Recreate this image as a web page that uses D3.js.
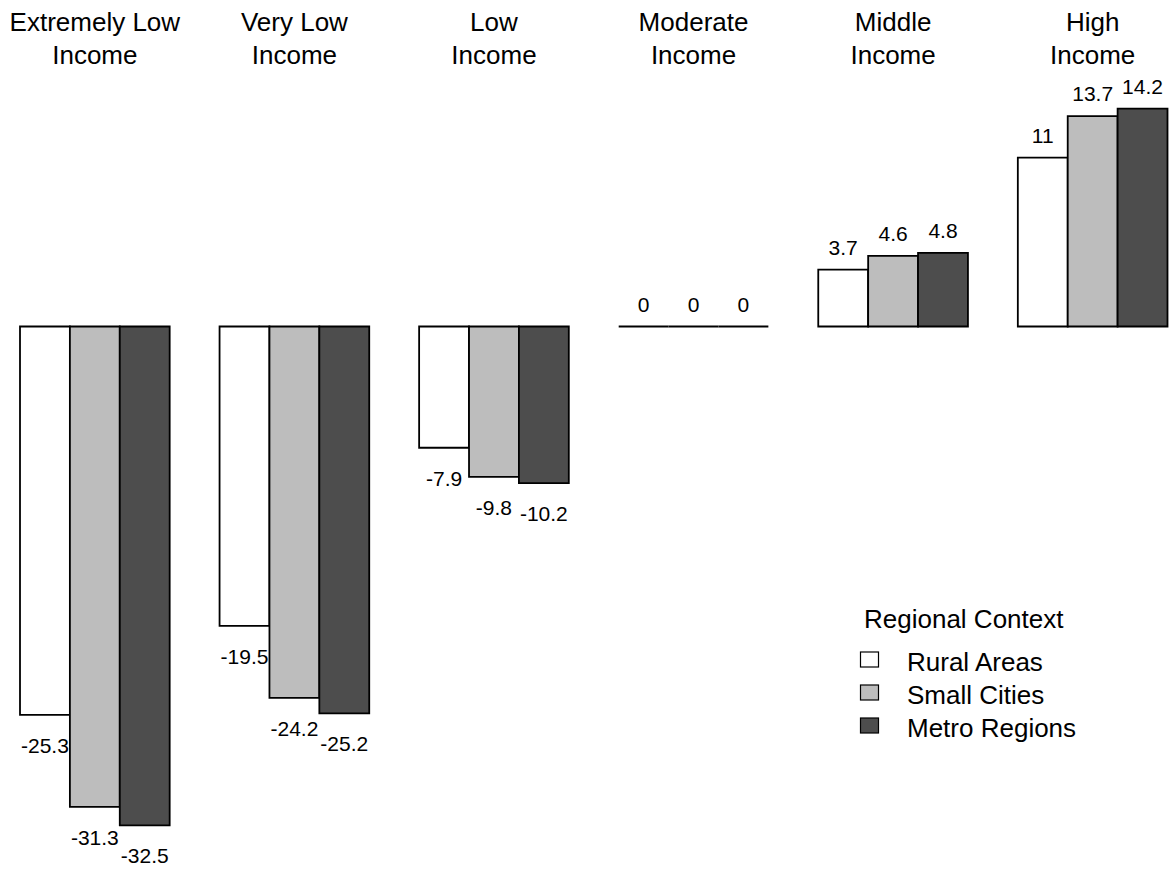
<!DOCTYPE html>
<html>
<head>
<meta charset="utf-8">
<script src="https://cdn.jsdelivr.net/npm/d3@7"></script>
<style>
  html, body { margin: 0; padding: 0; background: #fff; }
  svg { display: block; font-family: "Liberation Sans", Arial, sans-serif; }
</style>
</head>
<body>
<svg id="chart" width="1176" height="869"></svg>
<script>
const categories = [
  ["Extremely Low", "Income"],
  ["Very Low", "Income"],
  ["Low", "Income"],
  ["Moderate", "Income"],
  ["Middle", "Income"],
  ["High", "Income"]
];
const seriesNames = ["Rural Areas", "Small Cities", "Metro Regions"];
const seriesColors = ["#ffffff", "#bdbdbd", "#4d4d4d"];
const rural  = [-25.3, -19.5, -7.9, 0, 3.7, 11];
const small  = [-31.3, -24.2, -9.8, 0, 4.6, 13.7];
const metro  = [-32.5, -25.2, -10.2, 0, 4.8, 14.2];
const seriesValues = [rural, small, metro];
const legendTitle = "Regional Context";

const svg = d3.select("#chart");
const catKeys = categories.map((c, i) => i);

const x0 = d3.scaleBand().domain(catKeys).range([20, 1167.5]).paddingInner(0.25).paddingOuter(0);
const x1 = d3.scaleBand().domain(d3.range(seriesNames.length)).range([0, x0.bandwidth()]).padding(0);
const y = d3.scaleLinear().domain([-35, 15]).range([863.75, 96.25]);

// category labels
const catG = svg.append("g");
categories.forEach((lines, i) => {
  const cx = x0(i) + x0.bandwidth() / 2;
  const t = catG.append("text")
    .attr("text-anchor", "middle")
    .attr("font-size", 26)
    .attr("fill", "#000");
  lines.forEach((ln, j) => {
    t.append("tspan").attr("x", cx).attr("y", 31 + j * 33).text(ln);
  });
});

// bars
const data = [];
categories.forEach((c, i) => {
  seriesValues.forEach((vals, s) => data.push({ cat: i, s, v: vals[i] }));
});

const barG = svg.append("g");
barG.selectAll("path.bar").data(data).enter().append("path")
  .attr("class", "bar")
  .attr("d", d => {
    const xl = x0(d.cat) + x1(d.s), xr = xl + x1.bandwidth();
    const y0 = y(0), y1 = y(d.v);
    return `M${xl},${y0}H${xr}V${y1}H${xl}Z`;
  })
  .attr("fill", d => seriesColors[d.s])
  .attr("stroke", "#000")
  .attr("stroke-width", 1.8)
  .attr("stroke-linejoin", "miter");

// value labels
barG.selectAll("text.val").data(data).enter().append("text")
  .attr("class", "val")
  .attr("x", d => x0(d.cat) + x1(d.s) + x1.bandwidth() / 2)
  .attr("y", d => d.v >= 0 ? y(d.v) - 15 : y(d.v) + 38)
  .attr("text-anchor", "middle")
  .attr("font-size", 21)
  .attr("fill", "#000")
  .text(d => String(d.v));

// legend
const lg = svg.append("g");
lg.append("text").attr("x", 864).attr("y", 628).attr("font-size", 26).attr("fill", "#000").text(legendTitle);
seriesNames.forEach((name, s) => {
  const by = 671 + s * 33;
  lg.append("rect").attr("x", 860.5).attr("y", by - 19).attr("width", 18).attr("height", 15)
    .attr("fill", seriesColors[s]).attr("stroke", "#000").attr("stroke-width", 1.2);
  lg.append("text").attr("x", 907).attr("y", by).attr("font-size", 26).attr("fill", "#000").text(name);
});
</script>
</body>
</html>
